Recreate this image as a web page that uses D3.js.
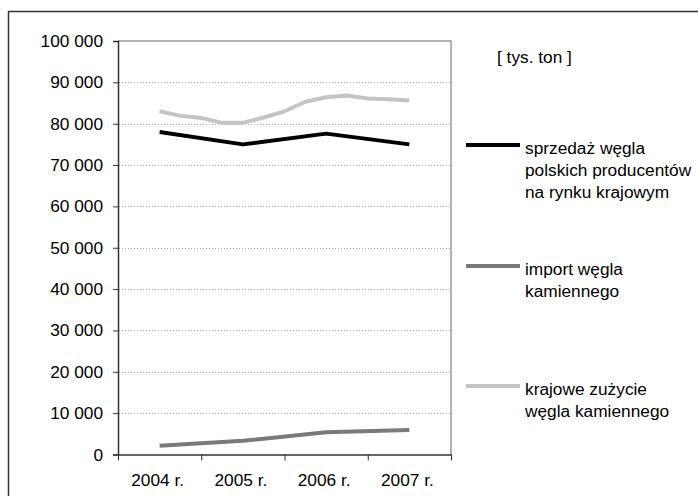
<!DOCTYPE html>
<html><head><meta charset="utf-8">
<script src="https://cdn.jsdelivr.net/npm/d3@7"></script>
<style>body{margin:0;background:#fff}svg{display:block}text{font-family:"Liberation Sans",Arial,sans-serif;fill:#000}</style>
</head><body>
<script>
const years = ["2004 r.", "2005 r.", "2006 r.", "2007 r."];
const yTicks = [0, 10000, 20000, 30000, 40000, 50000, 60000, 70000, 80000, 90000, 100000];
// sprzedaż (yearly)
const salesValues = [78000, 75000, 77600, 75000];
// import (yearly)
const importValues = [2100, 3300, 5400, 5900];
// krajowe zużycie (quarterly points between year centres)
const consumptionValues = [83000, 81900, 81400, 80200, 80200, 81500, 83000, 85300, 86400, 86800, 86100, 85900, 85600];
const legendLabels = [
  ["sprzedaż węgla", "polskich producentów", "na rynku krajowym"],
  ["import węgla", "kamiennego"],
  ["krajowe zużycie", "węgla kamiennego"]
];
const colors = ["#000000", "#7a7a7a", "#c4c4c4"];
const unitLabel = "[ tys. ton ]";

const W = 698, H = 496, FS = 17.3;
const svg = d3.select("body").append("svg").attr("width", W).attr("height", H);

// outer frame
svg.append("rect").attr("x", 8.5).attr("y", 11.5).attr("width", 720).attr("height", 520)
  .attr("fill", "none").attr("stroke", "#333").attr("stroke-width", 1.5);

const L = 118, R = 451, T = 41, B = 454.5;
const x = d3.scaleLinear().domain([0, 4]).range([L, R]);
const y = d3.scaleLinear().domain([0, 100000]).range([B, T]);

// gridlines
svg.append("g").selectAll("line").data(yTicks.filter(v => v > 0 && v < 100000)).join("line")
  .attr("x1", L + 1).attr("x2", R).attr("y1", d => Math.round(y(d)) + 0.5).attr("y2", d => Math.round(y(d)) + 0.5)
  .attr("stroke", "#b0b0b0").attr("stroke-width", 1).attr("stroke-dasharray", "1,2");

// plot border (top & right)
svg.append("path").attr("d", `M${L},${T}H${R}V${B}`).attr("fill", "none")
  .attr("stroke", "#999").attr("stroke-width", 1.5);

// y axis
const fmt = v => d3.format(",")(v).replace(/,/g, " ");
const yAxis = d3.axisLeft(y).tickValues(yTicks).tickFormat(fmt).tickSize(5).tickPadding(10);
const gy = svg.append("g").attr("transform", `translate(${L},0)`).call(yAxis);
gy.select(".domain").attr("stroke", "#333").attr("stroke-width", 1.5);
gy.selectAll(".tick line").attr("stroke", "#333");
gy.selectAll("text").attr("font-size", FS).attr("font-family", "Liberation Sans, Arial, sans-serif").attr("fill", "#000");

// x axis
const xAxis = d3.axisBottom(x).tickValues([0, 1, 2, 3, 4]).tickFormat("").tickSize(6).tickSizeOuter(0);
const gx = svg.append("g").attr("transform", `translate(0,${B})`).call(xAxis);
gx.select(".domain").attr("stroke", "#333").attr("stroke-width", 1.5);
gx.selectAll(".tick line").attr("stroke", "#333");
svg.append("g").selectAll("text").data(years).join("text")
  .attr("x", (d, i) => x(i + 0.5) - 2).attr("y", 486).attr("text-anchor", "middle")
  .attr("font-size", FS).text(d => d);

// lines
const line = d3.line().x(d => x(d[0])).y(d => y(d[1]));
const yearly = vals => vals.map((v, i) => [i + 0.5, v]);
const quarterly = vals => vals.map((v, i) => [0.5 + i * 0.25, v]);
const series = [
  { pts: quarterly(consumptionValues), c: colors[2] },
  { pts: yearly(importValues), c: colors[1] },
  { pts: yearly(salesValues), c: colors[0] }
];
svg.append("g").selectAll("path").data(series).join("path")
  .attr("d", d => line(d.pts)).attr("fill", "none").attr("stroke", d => d.c)
  .attr("stroke-width", 4).attr("stroke-linejoin", "round");

// unit label
svg.append("text").attr("x", 497).attr("y", 63).attr("font-size", FS).text(unitLabel);

// legend
const legY = [145, 266, 386];
const lg = svg.append("g").selectAll("g").data(legendLabels).join("g")
  .attr("transform", (d, i) => `translate(0,${legY[i]})`);
lg.append("line").attr("x1", 466).attr("x2", 520).attr("y1", 0).attr("y2", 0)
  .attr("stroke", (d, i) => colors[i]).attr("stroke-width", 4);
lg.selectAll("text").data(d => d).join("text")
  .attr("x", 525).attr("y", (d, j) => 8.5 + j * 22).attr("font-size", FS).text(d => d);
</script>
</body></html>
